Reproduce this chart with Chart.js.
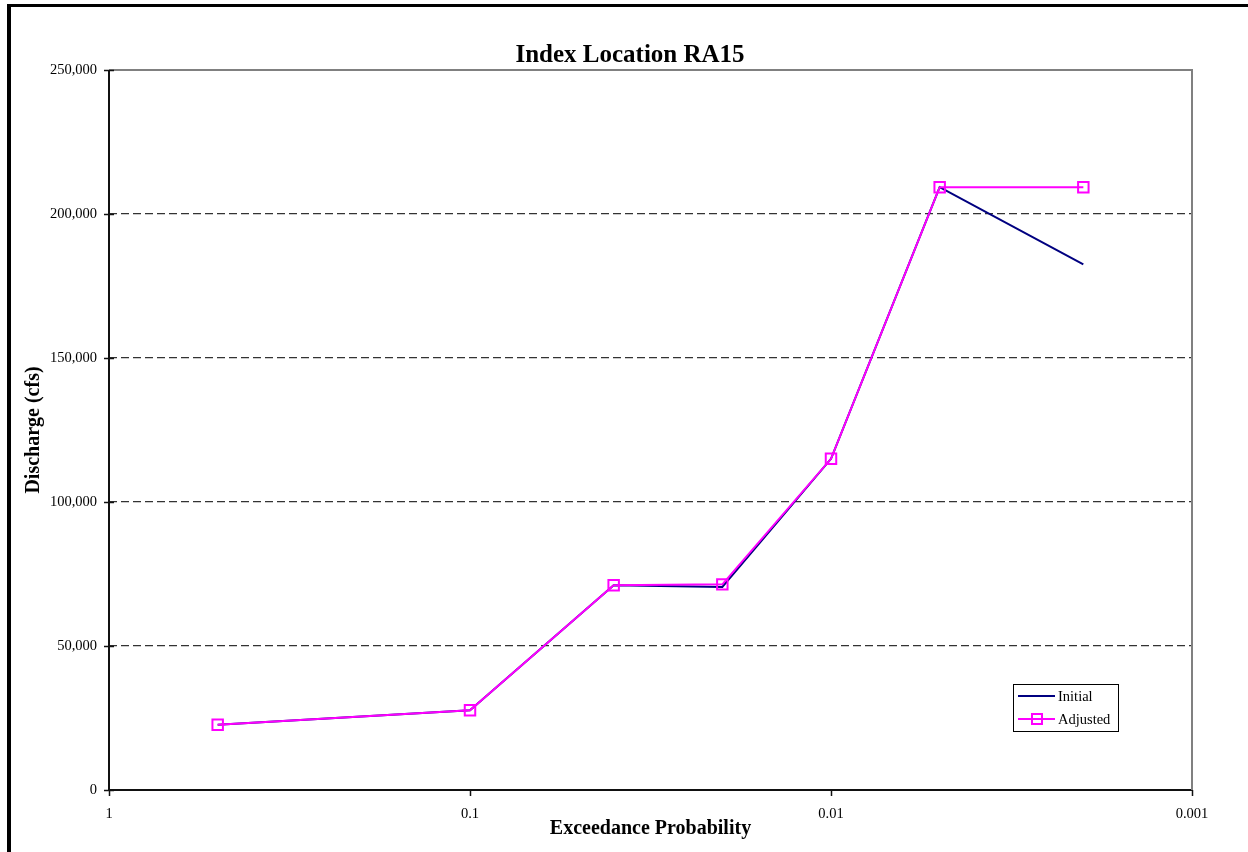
<!DOCTYPE html>
<html>
<head>
<meta charset="utf-8">
<script src="https://cdn.jsdelivr.net/npm/chart.js@4/dist/chart.umd.min.js"></script>
<style>
  html, body { margin: 0; padding: 0; background: #fff; overflow: hidden; }
  #wrap { position: relative; width: 1248px; height: 852px; }
  #frame { position: absolute; left: 7px; top: 4px; width: 1400px; height: 1000px;
           border-top: 3px solid #000; border-left: 4px solid #000; pointer-events: none; }
</style>
</head>
<body>
<div id="wrap">
  <canvas id="c" width="1248" height="852"></canvas>
  <div id="frame"></div>
</div>
<script>
const chartTitle = 'Index Location RA15';
const xTitle = 'Exceedance Probability';
const yTitle = 'Discharge (cfs)';
const probabilities = [0.5, 0.1, 0.04, 0.02, 0.01, 0.005, 0.002];
const initialValues = [22650, 27700, 71100, 70500, 115000, 209300, 182500];
const adjustedValues = [22650, 27700, 71100, 71400, 115000, 209300, 209300];
const xTickValues = [1, 0.1, 0.01, 0.001];
const seriesNames = ['Initial', 'Adjusted'];
const seriesColors = ['#000080', '#FF00FF'];

const FONT = 'Liberation Serif, Times New Roman, serif';

const toPoints = (xs, ys) => xs.map((x, i) => ({ x: x, y: ys[i] }));

const decorPlugin = {
  id: 'decor',
  beforeDatasetsDraw(chart) {
    const { ctx, chartArea: a } = chart;
    ctx.save();
    ctx.strokeStyle = '#808080';
    ctx.lineWidth = 2;
    ctx.beginPath();
    ctx.moveTo(a.left, a.top);
    ctx.lineTo(a.right, a.top);
    ctx.lineTo(a.right, a.bottom);
    ctx.stroke();
    ctx.strokeStyle = '#111';
    ctx.lineWidth = 2;
    ctx.beginPath();
    ctx.moveTo(a.left, a.top);
    ctx.lineTo(a.left, a.bottom);
    ctx.stroke();
    ctx.restore();
  },
  afterDraw(chart) {
    const { ctx, chartArea: a, scales } = chart;
    ctx.save();
    ctx.strokeStyle = '#111';
    ctx.lineWidth = 1.5;
    scales.y.ticks.forEach(t => {
      const y = Math.round(scales.y.getPixelForValue(t.value)) + 0.5;
      ctx.beginPath();
      ctx.moveTo(a.left - 5, y);
      ctx.lineTo(a.left + 5, y);
      ctx.stroke();
    });
    scales.x.ticks.forEach(t => {
      const x = Math.round(scales.x.getPixelForValue(t.value)) + 0.5;
      ctx.beginPath();
      ctx.moveTo(x, a.bottom);
      ctx.lineTo(x, a.bottom + 6);
      ctx.stroke();
    });
    ctx.fillStyle = '#000';
    ctx.font = 'bold 25px ' + FONT;
    ctx.textAlign = 'center';
    ctx.textBaseline = 'alphabetic';
    ctx.fillText(chartTitle, 630, 62);
    const lx = 1013, ly = 684, lw = 105, lh = 47;
    ctx.fillStyle = '#fff';
    ctx.fillRect(lx, ly, lw, lh);
    ctx.strokeStyle = '#000';
    ctx.lineWidth = 1;
    ctx.strokeRect(lx + 0.5, ly + 0.5, lw, lh);
    const rows = [696, 719];
    ctx.font = '14.5px ' + FONT;
    ctx.textAlign = 'left';
    ctx.textBaseline = 'middle';
    chart.data.datasets.forEach((ds, i) => {
      const y = rows[i];
      ctx.strokeStyle = ds.borderColor;
      ctx.lineWidth = 2;
      ctx.beginPath();
      ctx.moveTo(1018, y);
      ctx.lineTo(1055, y);
      ctx.stroke();
      if (ds.pointRadius > 0) {
        ctx.lineWidth = 2;
        ctx.strokeRect(1032, y - 5, 10, 10);
      }
      ctx.fillStyle = '#000';
      ctx.fillText(ds.label, 1058, y + 1);
    });
    ctx.restore();
  }
};

new Chart(document.getElementById('c'), {
  type: 'line',
  data: {
    datasets: [
      {
        label: seriesNames[0],
        data: toPoints(probabilities, initialValues),
        borderColor: seriesColors[0],
        backgroundColor: seriesColors[0],
        borderWidth: 2,
        pointRadius: 0,
        tension: 0,
        order: 1
      },
      {
        label: seriesNames[1],
        data: toPoints(probabilities, adjustedValues),
        borderColor: seriesColors[1],
        backgroundColor: 'rgba(0,0,0,0)',
        borderWidth: 2,
        pointStyle: 'rect',
        pointRadius: 7.4,
        pointBorderWidth: 2,
        pointBorderColor: seriesColors[1],
        pointBackgroundColor: 'rgba(0,0,0,0)',
        tension: 0,
        order: 0
      }
    ]
  },
  options: {
    responsive: false,
    animation: false,
    events: [],
    layout: { padding: { left: 22, right: 56, top: 70, bottom: 11 } },
    plugins: {
      legend: { display: false },
      title: { display: false },
      tooltip: { enabled: false }
    },
    scales: {
      x: {
        type: 'logarithmic',
        reverse: true,
        min: 0.001,
        max: 1,
        afterBuildTicks: (s) => { s.ticks = xTickValues.map(v => ({ value: v })); },
        afterFit: (s) => { s.height = 51; },
        ticks: {
          autoSkip: false,
          maxRotation: 0,
          padding: 15,
          color: '#000',
          font: { family: FONT, size: 14.5 },
          callback: (v) => String(v)
        },
        grid: { drawOnChartArea: false, drawTicks: false },
        border: { display: true, color: '#111', width: 2 },
        title: {
          display: true,
          text: xTitle,
          color: '#000',
          padding: 0,
          font: { family: FONT, size: 20, weight: 'bold' }
        }
      },
      y: {
        min: 0,
        max: 250000,
        afterFit: (s) => { s.width = 87; },
        ticks: {
          stepSize: 50000,
          padding: 12,
          color: '#000',
          font: { family: FONT, size: 14.5 },
          callback: (v) => Number(v).toLocaleString('en-US')
        },
        grid: {
          drawTicks: false,
          lineWidth: 1.2,
          color: (c) => (c.tick && (c.tick.value === 0 || c.tick.value === 250000)) ? 'rgba(0,0,0,0)' : '#333333'
        },
        border: { display: false, dash: [8, 4] },
        title: {
          display: true,
          text: yTitle,
          color: '#000',
          padding: 0,
          font: { family: FONT, size: 20, weight: 'bold' }
        }
      }
    }
  },
  plugins: [decorPlugin]
});
</script>
</body>
</html>
